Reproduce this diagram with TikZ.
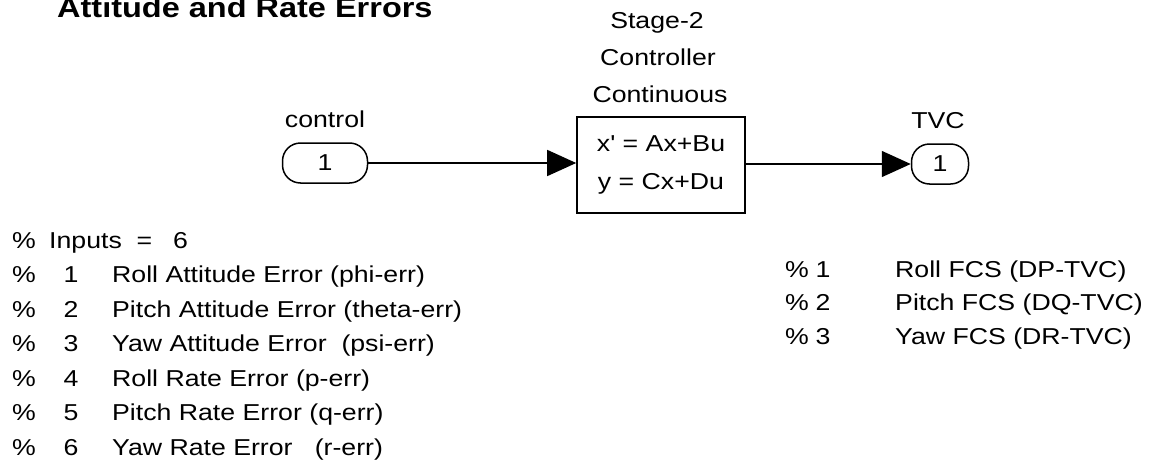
\documentclass[tikz,border=0pt]{standalone}
\usepackage{fontspec}
\setmainfont{Liberation Sans}
\newfontfamily\ms[FakeStretch=1.16]{Liberation Sans}
\usetikzlibrary{arrows.meta}
\tikzset{
  txt/.style={font=\ms\fontsize{23}{27}\selectfont, inner sep=0pt, anchor=base west},
  ctxt/.style={txt, anchor=base},
  numtxt/.style={txt, anchor=base},
  port/.style={draw, line width=1.5pt, rounded corners=18pt, minimum height=40pt, inner sep=0pt, font=\ms\fontsize{23}{27}\selectfont},
  sysbox/.style={draw, line width=1.6pt, minimum width=168pt, minimum height=96pt, inner sep=0pt, align=center, font=\ms\fontsize{23}{38}\selectfont},
  wire/.style={line width=1.5pt, -{Triangle[length=29pt,width=26pt]}},
}
\begin{document}
\begin{tikzpicture}[x=1pt,y=-1pt]
\useasboundingbox (0,0) rectangle (1164,471);
\node[txt, font=\ms\bfseries\fontsize{28}{32}\selectfont] (title) at (57,17) {Attitude and Rate Errors};
\node[ctxt] (n1) at (657,28) {Stage-2};
\node[ctxt] (n2) at (658,65) {Controller};
\node[ctxt] (n3) at (660,102) {Continuous};
\node[sysbox] (ss) at (661,165) {x' = Ax+Bu\\y = Cx+Du};
\node[port, minimum width=85pt] (in) at (325,163) {1};
\node[ctxt] (inl) at (325,127) {control};
\node[port, minimum width=57pt] (out) at (940,164) {1};
\node[ctxt] (outl) at (938,128) {TVC};
\draw[wire] (in.east) -- (in.east -| ss.west);
\draw[wire] (ss.east |- out.west) -- (out.west);
% left list
\node[txt] (p0) at (12,248) {\%};
\node[txt] (t0) at (49,248) {Inputs \ =};
\node[txt] (v0) at (173,248) {6};
\foreach \i/\y/\t in {1/282.5/{Roll Attitude Error  (phi-err)},
                      2/317/{Pitch Attitude Error (theta-err)},
                      3/351.5/{Yaw Attitude Error  \ (psi-err)},
                      4/386/{Roll Rate Error  (p-err)},
                      5/420.5/{Pitch Rate Error (q-err)},
                      6/455/{Yaw Rate Error \ \ (r-err)}} {
  \node[txt] (pl\i) at (12,\y) {\%};
  \node[numtxt] (nl\i) at (71,\y) {\i};
  \node[txt] (tl\i) at (112,\y) {\t};
}
% right list
\foreach \i/\y/\t in {1/277/{Roll FCS (DP-TVC)},
                      2/310.5/{Pitch FCS (DQ-TVC)},
                      3/344/{Yaw FCS (DR-TVC)}} {
  \node[txt] (pr\i) at (785,\y) {\%};
  \node[numtxt] (nr\i) at (823,\y) {\i};
  \node[txt] (tr\i) at (895,\y) {\t};
}
\end{tikzpicture}
\end{document}
